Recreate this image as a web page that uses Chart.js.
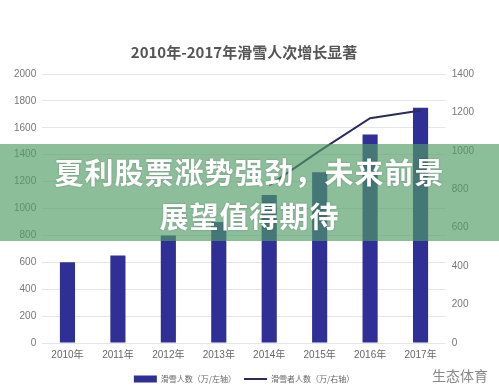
<!DOCTYPE html>
<html>
<head>
<meta charset="utf-8">
<script src="https://cdn.jsdelivr.net/npm/chart.js@4"></script>
<style>
  html, body { margin: 0; padding: 0; background: #fff; }
  #wrap { position: relative; width: 499px; height: 387px; overflow: hidden; }
  #chart { position: absolute; left: 0; top: 0; }
  .banner {
    position: absolute; left: 0; top: 144px; width: 499px; height: 97px;
    background: rgba(81, 157, 101, 0.66);
  }
  .banner-text {
    position: absolute; left: 0; top: 149px; width: 499px;
    text-align: center; color: #fff;
    font-family: "Noto Sans CJK SC", sans-serif; font-weight: 700;
    font-size: 29px; line-height: 44px; letter-spacing: 1px;
    text-shadow: 0 0 2px rgba(0,0,0,0.25);
  }
  .mark {
    position: absolute; left: 432px; top: 365px;
    font-family: "Noto Sans CJK SC", sans-serif; font-size: 14px; color: #888;
  }
</style>
</head>
<body>
<div id="wrap">
  <canvas id="chart" width="499" height="387"></canvas>
  <div class="banner"></div>
  <div class="banner-text">夏利股票涨势强劲，未来前景<br>展望值得期待</div>
  <div class="mark">生态体育</div>
</div>
<script>
// data
const years = ['2010年', '2011年', '2012年', '2013年', '2014年', '2015年', '2016年', '2017年'];
const skiVisits = [600, 650, 800, 900, 1100, 1270, 1550, 1750];      // 万, left axis
const skiers = [null, null, null, null, 820, 1000, 1170, 1210];      // 万, right axis
const leftTicks = { min: 0, max: 2000, step: 200 };
const rightTicks = { min: 0, max: 1400, step: 200 };

const ctx = document.getElementById('chart').getContext('2d');
const font = "'Liberation Sans', 'Noto Sans CJK SC', sans-serif";
const plain = (v) => String(v);

new Chart(ctx, {
  type: 'bar',
  data: {
    labels: years,
    datasets: [
      {
        type: 'line',
        label: '滑雪者人数（万/右轴）',
        data: skiers,
        borderColor: '#2b2b5e',
        backgroundColor: '#2b2b5e',
        borderWidth: 2,
        pointRadius: 0,
        tension: 0,
        yAxisID: 'y1',
        order: 0
      },
      {
        label: '滑雪人数（万/左轴）',
        data: skiVisits,
        backgroundColor: '#2f2f96',
        barPercentage: 0.3,
        categoryPercentage: 1,
        yAxisID: 'y',
        order: 1
      }
    ]
  },
  options: {
    responsive: false,
    animation: false,
    layout: { padding: { top: 43, left: 8, right: 19, bottom: -6 } },
    scales: {
      x: {
        grid: { display: false, drawTicks: false },
        border: { display: false },
        ticks: { color: '#666', font: { family: font, size: 10 }, padding: 6 }
      },
      y: {
        position: 'left',
        min: leftTicks.min, max: leftTicks.max,
        ticks: { stepSize: leftTicks.step, callback: plain, color: '#777', font: { family: font, size: 10 }, padding: 6 },
        grid: { color: '#e6e6e6', drawTicks: false },
        border: { display: false }
      },
      y1: {
        position: 'right',
        min: rightTicks.min, max: rightTicks.max,
        ticks: { stepSize: rightTicks.step, callback: plain, color: '#777', font: { family: font, size: 10 }, padding: 6 },
        grid: { drawOnChartArea: false, drawTicks: false },
        border: { display: false }
      }
    },
    plugins: {
      title: {
        display: true,
        text: '2010年-2017年滑雪人次增长显著',
        color: '#555',
        font: { family: "'Noto Sans CJK SC', sans-serif", size: 15, weight: 'bold' },
        padding: { top: 0, bottom: 13 }
      },
      legend: {
        position: 'bottom',
        reverse: true,
        labels: {
          color: '#666',
          font: { family: "'Noto Sans CJK SC', sans-serif", size: 8 },
          usePointStyle: true,
          pointStyleWidth: 23,
          boxHeight: 7,
          padding: 8,
          generateLabels: (chart) => {
            const items = Chart.defaults.plugins.legend.labels.generateLabels(chart);
            items.forEach(it => {
              it.pointStyle = chart.data.datasets[it.datasetIndex].type === 'line' ? 'line' : 'rect';
            });
            return items;
          }
        }
      },
      tooltip: { enabled: false }
    }
  }
});
</script>
</body>
</html>
